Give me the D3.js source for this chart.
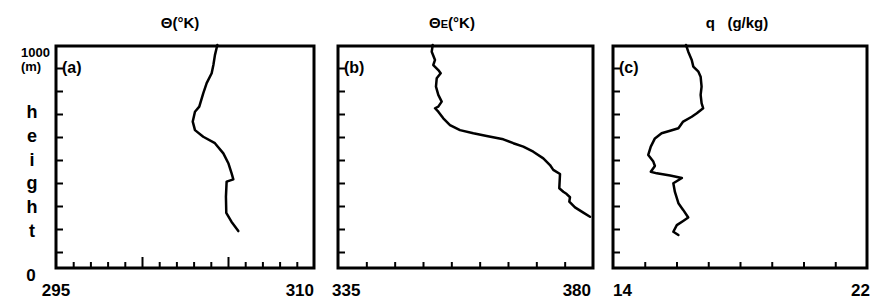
<!DOCTYPE html>
<html>
<head>
<meta charset="utf-8">
<script src="https://cdn.jsdelivr.net/npm/d3@7"></script>
<style>
  body { margin: 0; background: #fff; }
  svg { display: block; font-family: "Liberation Sans", Arial, sans-serif; font-weight: bold; }
  .curve { fill: none; stroke: #000; stroke-width: 2.5; stroke-linejoin: round; stroke-linecap: round; }
  .frame { fill: none; stroke: #000; stroke-width: 3; }
  .tick line { stroke: #000; stroke-width: 2; }
</style>
</head>
<body>
<svg id="chart" width="875" height="299"></svg>
<script>
// heights in metres, shared by the three profiles
var heightTicks = [100, 200, 300, 400, 500, 600, 700, 800, 900];
var heightLetters = ['h', 'e', 'i', 'g', 'h', 't'];

// (a) potential temperature
var thetaHeight = [1000, 956, 913, 877, 834, 790, 732, 710, 667, 630, 601, 573, 529, 486, 442, 416, 406, 340, 270, 232, 191];
var thetaValue = [304.38, 304.24, 304.15, 304.05, 303.76, 303.56, 303.33, 303.08, 302.95, 303.08, 303.56, 304.24, 304.73, 305.02, 305.21, 305.31, 304.92, 304.88, 304.9, 305.2, 305.6];
var thetaMinorTicks = [296, 297, 298, 299, 301, 302, 303, 304, 306, 307, 308, 309];
var thetaMajorTicks = [300, 305];

// (b) equivalent potential temperature
var thetaEHeight = [1000, 971, 935, 913, 891, 877, 855, 819, 783, 754, 732, 725, 710, 681, 652, 630, 616, 604, 590, 573, 558, 536, 507, 478, 457, 439, 377, 362, 352, 338, 319, 294, 271, 253];
var thetaEValue = [351.71, 351.54, 352.12, 351.82, 352.7, 353.12, 352.42, 352.29, 352.7, 353.3, 352.7, 352.12, 352.7, 353.58, 354.76, 356.53, 358.88, 361.24, 364.17, 365.94, 367.7, 369.46, 371.23, 372.41, 372.99, 374.18, 374.05, 374.76, 375.36, 375.94, 375.82, 376.82, 378.29, 379.47];
var thetaETicks = [340, 345, 350, 355, 360, 365, 370, 375];

// (c) specific humidity
var qHeight = [1000, 971, 935, 906, 884, 862, 819, 783, 747, 725, 703, 688, 667, 638, 627, 616, 594, 558, 522, 493, 474, 449, 442, 433, 422, 399, 361, 312, 283, 250, 235, 217, 188, 174];
var qValue = [16.3, 16.37, 16.48, 16.53, 16.69, 16.76, 16.79, 16.76, 16.79, 16.84, 16.64, 16.48, 16.21, 16.06, 15.8, 15.53, 15.32, 15.19, 15.11, 15.27, 15.32, 15.19, 15.38, 15.8, 16.17, 15.9, 15.95, 16.06, 16.21, 16.37, 16.21, 16.01, 15.9, 16.06];
var qTicks = [15, 16, 17, 18, 19, 20, 21];

var svg = d3.select('#chart');

var top_y = 46;
var bottom_y = 268;

// ticks sit a little lower than the frame in the scan
var yScale = d3.scaleLinear().domain([0, 1000]).range([275, 45]);

var panels = [
  { left: 56, right: 314, domain: [295, 310], heights: thetaHeight, values: thetaValue,
    minor: thetaMinorTicks, major: thetaMajorTicks, tag: '(a)', titleX: 180,
    lowAnchor: 'middle', lowDx: 0, highDx: 0 },
  { left: 338, right: 593, domain: [335, 380], heights: thetaEHeight, values: thetaEValue,
    minor: thetaETicks, major: [], tag: '(b)', titleX: 452,
    lowAnchor: 'start', lowDx: -6, highDx: -2 },
  { left: 613, right: 867, domain: [14, 22], heights: qHeight, values: qValue,
    minor: qTicks, major: [], tag: '(c)', titleX: 737,
    lowAnchor: 'start', lowDx: 0, highDx: 3 }
];

panels.forEach(function(p, i) {
  var xScale = d3.scaleLinear().domain(p.domain).range([p.left, p.right]);
  var g = svg.append('g').attr('class', 'panel-' + i);

  // inward ticks on the height axis
  g.append('g')
    .attr('transform', 'translate(' + p.left + ',0)')
    .call(d3.axisLeft(yScale).tickValues(heightTicks).tickSize(-7).tickFormat(''))
    .call(function(a) { a.select('.domain').remove(); });

  g.append('g')
    .attr('transform', 'translate(0,' + bottom_y + ')')
    .call(d3.axisBottom(xScale).tickValues(p.minor).tickSize(-6).tickFormat(''))
    .call(function(a) { a.select('.domain').remove(); });

  if (p.major.length) {
    g.append('g')
      .attr('transform', 'translate(0,' + bottom_y + ')')
      .call(d3.axisBottom(xScale).tickValues(p.major).tickSize(-11).tickFormat(''))
      .call(function(a) { a.select('.domain').remove(); });
  }

  g.append('rect')
    .attr('class', 'frame')
    .attr('x', p.left)
    .attr('y', top_y)
    .attr('width', p.right - p.left)
    .attr('height', bottom_y - top_y);

  var line = d3.line()
    .x(function(d) { return xScale(d[1]); })
    .y(function(d) { return yScale(d[0]); });

  g.append('path')
    .attr('class', 'curve')
    .attr('d', line(d3.zip(p.heights, p.values)));

  g.append('text')
    .text(p.tag)
    .attr('x', p.left + 6)
    .attr('y', 73)
    .attr('font-size', 16);

  g.append('text')
    .text(p.domain[0])
    .attr('x', xScale(p.domain[0]) + p.lowDx)
    .attr('y', 296)
    .attr('text-anchor', p.lowAnchor)
    .attr('font-size', 17);

  g.append('text')
    .text(p.domain[1])
    .attr('x', xScale(p.domain[1]) + p.highDx)
    .attr('y', 296)
    .attr('text-anchor', 'end')
    .attr('font-size', 17);
});

// titles
svg.append('text').attr('x', panels[0].titleX).attr('y', 28).attr('text-anchor', 'middle')
  .attr('font-size', 15).text('\u0398(\u00b0K)');

var t2 = svg.append('text').attr('x', panels[1].titleX).attr('y', 28).attr('text-anchor', 'middle')
  .attr('font-size', 15);
t2.append('tspan').text('\u0398');
t2.append('tspan').attr('font-size', 11).text('E');
t2.append('tspan').text('(\u00b0K)');

svg.append('text').attr('x', panels[2].titleX).attr('y', 28).attr('text-anchor', 'middle')
  .attr('font-size', 15).attr('xml:space', 'preserve').text('q   (g/kg)');

// height label
svg.append('text').attr('x', 50).attr('y', 57).attr('text-anchor', 'end')
  .attr('font-size', 13).text('1000');
svg.append('text').attr('x', 31).attr('y', 71).attr('text-anchor', 'middle')
  .attr('font-size', 13).text('(m)');

svg.selectAll('.hletter')
  .data(heightLetters)
  .enter()
  .append('text')
  .attr('class', 'hletter')
  .attr('x', 32)
  .attr('y', function(d, i) { return 118 + i * 23.8; })
  .attr('text-anchor', 'middle')
  .attr('font-size', 18)
  .text(function(d) { return d; });

svg.append('text').attr('x', 31).attr('y', 281).attr('text-anchor', 'middle')
  .attr('font-size', 17).text('0');
</script>
</body>
</html>
